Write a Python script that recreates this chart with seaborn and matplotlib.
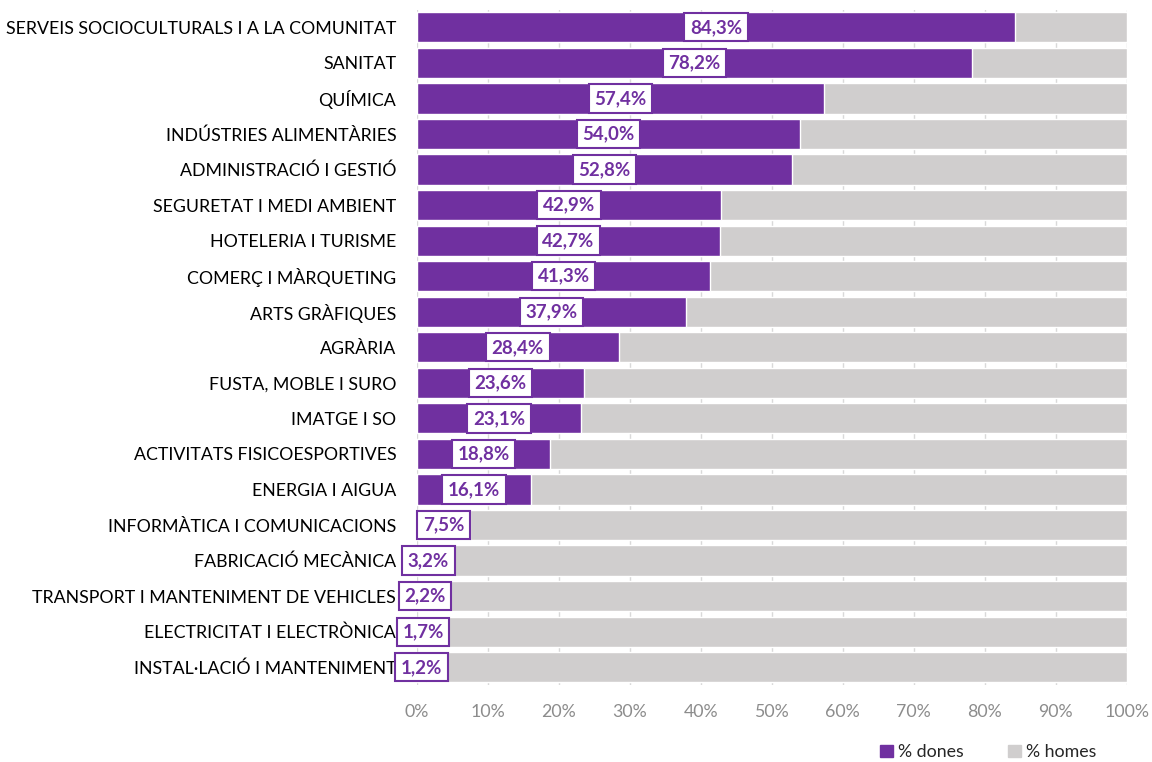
import matplotlib.pyplot as plt
import matplotlib.ticker as mtick
import pandas as pd
import seaborn as sns
from matplotlib.patches import Patch

families = [
    "SERVEIS SOCIOCULTURALS I A LA COMUNITAT",
    "SANITAT",
    "QUÍMICA",
    "INDÚSTRIES ALIMENTÀRIES",
    "ADMINISTRACIÓ I GESTIÓ",
    "SEGURETAT I MEDI AMBIENT",
    "HOTELERIA I TURISME",
    "COMERÇ I MÀRQUETING",
    "ARTS GRÀFIQUES",
    "AGRÀRIA",
    "FUSTA, MOBLE I SURO",
    "IMATGE I SO",
    "ACTIVITATS FISICOESPORTIVES",
    "ENERGIA I AIGUA",
    "INFORMÀTICA I COMUNICACIONS",
    "FABRICACIÓ MECÀNICA",
    "TRANSPORT I MANTENIMENT DE VEHICLES",
    "ELECTRICITAT I ELECTRÒNICA",
    "INSTAL·LACIÓ I MANTENIMENT",
]
dones = [84.3, 78.2, 57.4, 54.0, 52.8, 42.9, 42.7, 41.3, 37.9, 28.4,
         23.6, 23.1, 18.8, 16.1, 7.5, 3.2, 2.2, 1.7, 1.2]
homes = [15.7, 21.8, 42.6, 46.0, 47.2, 57.1, 57.3, 58.7, 62.1, 71.6,
         76.4, 76.9, 81.2, 83.9, 92.5, 96.8, 97.8, 98.3, 98.8]

PURPLE = "#7030a0"
GREY = "#d0cece"


def main() -> None:
    df = pd.DataFrame({"familia": families, "dones": dones, "homes": homes})
    df["total"] = df["dones"] + df["homes"]

    sns.set_theme(style="white")
    plt.rcParams["font.family"] = ["Lato", "DejaVu Sans"]

    fig = plt.figure(figsize=(11.52, 7.62), dpi=100)
    ax = fig.add_axes([0.362, 0.101, 0.616, 0.8865])

    sns.barplot(data=df, y="familia", x="total", color=GREY, width=0.85,
                saturation=1, ax=ax, zorder=2)
    sns.barplot(data=df, y="familia", x="dones", color=PURPLE, width=0.85,
                saturation=1, ax=ax, zorder=3)

    for i, v in enumerate(df["dones"]):
        ax.text(v / 2, i, f"{v:.1f}%".replace(".", ","),
                ha="center", va="center", fontsize=13.5, fontweight="bold",
                color=PURPLE, zorder=5, clip_on=False,
                bbox=dict(boxstyle="square,pad=0.3", fc="white", ec=PURPLE, lw=1.5))

    ax.set_xlim(0, 100)
    ax.set_ylim(len(families) - 0.5, -0.5)
    ax.xaxis.set_major_locator(mtick.MultipleLocator(10))
    ax.xaxis.set_major_formatter(mtick.PercentFormatter(decimals=0))
    ax.grid(axis="x", color="#d9d9d9", lw=1, zorder=0)
    ax.set_axisbelow(True)
    for s in ax.spines.values():
        s.set_visible(False)
    ax.set_xlabel("")
    ax.set_ylabel("")
    ax.tick_params(axis="y", length=0, pad=15, labelsize=12.8, labelcolor="black")
    ax.tick_params(axis="x", length=0, pad=14, labelsize=12.8, labelcolor="#8c8c8c")

    handles = [Patch(color=PURPLE, label="% dones"), Patch(color=GREY, label="% homes")]
    fig.legend(handles=handles, loc="center", bbox_to_anchor=(0.858, 0.013),
               ncol=2, frameon=False, fontsize=12.8, handlelength=0.7,
               handleheight=0.7, handletextpad=0.3, columnspacing=2.5)

    fig.savefig("out.png", dpi=100)


if __name__ == "__main__":
    main()
